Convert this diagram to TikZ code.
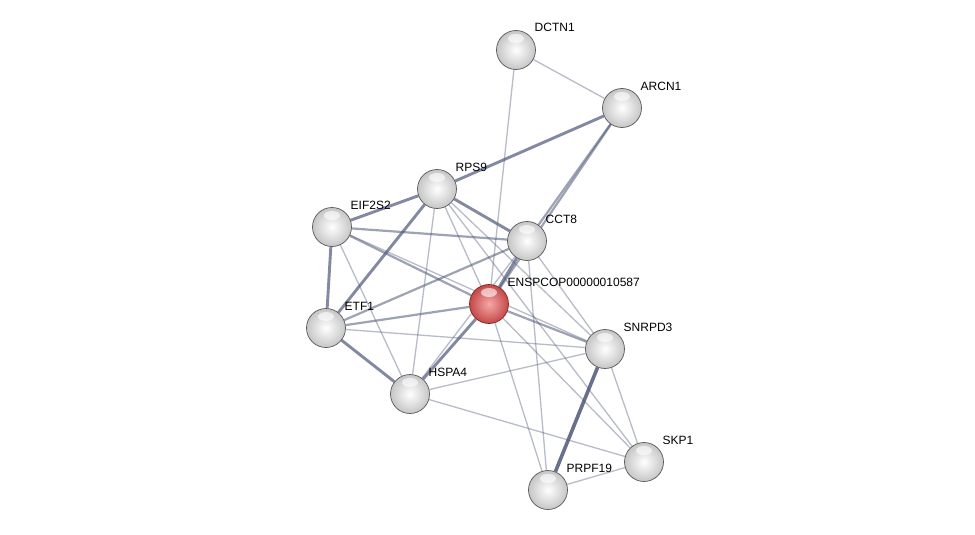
\documentclass[tikz,border=0pt]{standalone}
\usepackage{fontspec}
\setmainfont{Liberation Sans}
\usetikzlibrary{backgrounds}
\definecolor{edgecol}{RGB}{78,88,120}
\definecolor{redin}{RGB}{246,168,168}
\definecolor{redout}{RGB}{196,72,72}
\definecolor{redrim}{RGB}{130,36,36}
\begin{document}
\begin{tikzpicture}[x=1pt,y=-1pt,
  ball/.style={circle, minimum size=39pt, inner sep=0pt, draw=gray!70!black, line width=0.7pt,
    shading=radial, inner color=white, outer color=gray!45,
    path picture={\fill[white,opacity=0.6] ([yshift=-8pt]path picture bounding box.north) ellipse (8pt and 4.5pt);}},
  redball/.style={ball, draw=redrim, inner color=redin, outer color=redout},
  lbl/.style={anchor=base west, inner sep=0pt, font=\fontsize{12}{14}\selectfont, text=black},
  eA/.style={draw=edgecol, line width=1.3pt, opacity=0.40},
  eB/.style={draw=edgecol, line width=2.2pt, opacity=0.55},
  eC/.style={draw=edgecol, line width=2.9pt, opacity=0.70},
  eD/.style={draw=edgecol, line width=3.6pt, opacity=0.85}]
\useasboundingbox (0,0) rectangle (975,535);

\node[ball] (DCTN1) at (516,50) {};
\node[ball] (ARCN1) at (622,108) {};
\node[ball] (RPS9) at (437,189) {};
\node[ball] (EIF2S2) at (332,227) {};
\node[ball] (CCT8) at (527,241) {};
\node[redball] (ENSP) at (489,304) {};
\node[ball] (ETF1) at (326,328) {};
\node[ball] (SNRPD3) at (605,349) {};
\node[ball] (HSPA4) at (410,394) {};
\node[ball] (SKP1) at (644,462) {};
\node[ball] (PRPF19) at (548,490) {};

\foreach \n/\t in {DCTN1/DCTN1, ARCN1/ARCN1, RPS9/RPS9, EIF2S2/EIF2S2, CCT8/CCT8,
  ENSP/ENSPCOP00000010587, ETF1/ETF1, SNRPD3/SNRPD3, HSPA4/HSPA4, SKP1/SKP1, PRPF19/PRPF19}
  \node[lbl] (l\n) at ([xshift=18.5pt,yshift=18pt]\n.center) {\t};

\begin{scope}[on background layer]
\fill[white] (0,0) rectangle (975,535);
\draw[eA] (DCTN1) -- (ARCN1);
\draw[eA] (DCTN1) -- (ENSP);
\draw[eC] (ARCN1) -- (RPS9);
\draw[eB] (ARCN1) -- (CCT8);
\draw[eB] (ARCN1) -- (ENSP);
\draw[eC] (RPS9) -- (EIF2S2);
\draw[eC] (RPS9) -- (CCT8);
\draw[eC] (RPS9) -- (ETF1);
\draw[eA] (RPS9) -- (HSPA4);
\draw[eA] (RPS9) -- (ENSP);
\draw[eA] (RPS9) -- (SNRPD3);
\draw[eA] (RPS9) -- (SKP1);
\draw[eB] (EIF2S2) -- (CCT8);
\draw[eC] (EIF2S2) -- (ETF1);
\draw[eA] (EIF2S2) -- (HSPA4);
\draw[eB] (EIF2S2) -- (ENSP);
\draw[eA] (EIF2S2) -- (SNRPD3);
\draw[eB] (CCT8) -- (ETF1);
\draw[eC] (CCT8) -- (ENSP);
\draw[eA] (CCT8) -- (HSPA4);
\draw[eA] (CCT8) -- (SNRPD3);
\draw[eA] (CCT8) -- (PRPF19);
\draw[eB] (ENSP) -- (ETF1);
\draw[eC] (ENSP) -- (HSPA4);
\draw[eB] (ENSP) -- (SNRPD3);
\draw[eA] (ENSP) -- (PRPF19);
\draw[eA] (ENSP) -- (SKP1);
\draw[eC] (ETF1) -- (HSPA4);
\draw[eA] (ETF1) -- (SNRPD3);
\draw[eA] (HSPA4) -- (SNRPD3);
\draw[eA] (HSPA4) -- (SKP1);
\draw[eD] (SNRPD3) -- (PRPF19);
\draw[eA] (SNRPD3) -- (SKP1);
\draw[eA] (PRPF19) -- (SKP1);
\end{scope}
\end{tikzpicture}
\end{document}
